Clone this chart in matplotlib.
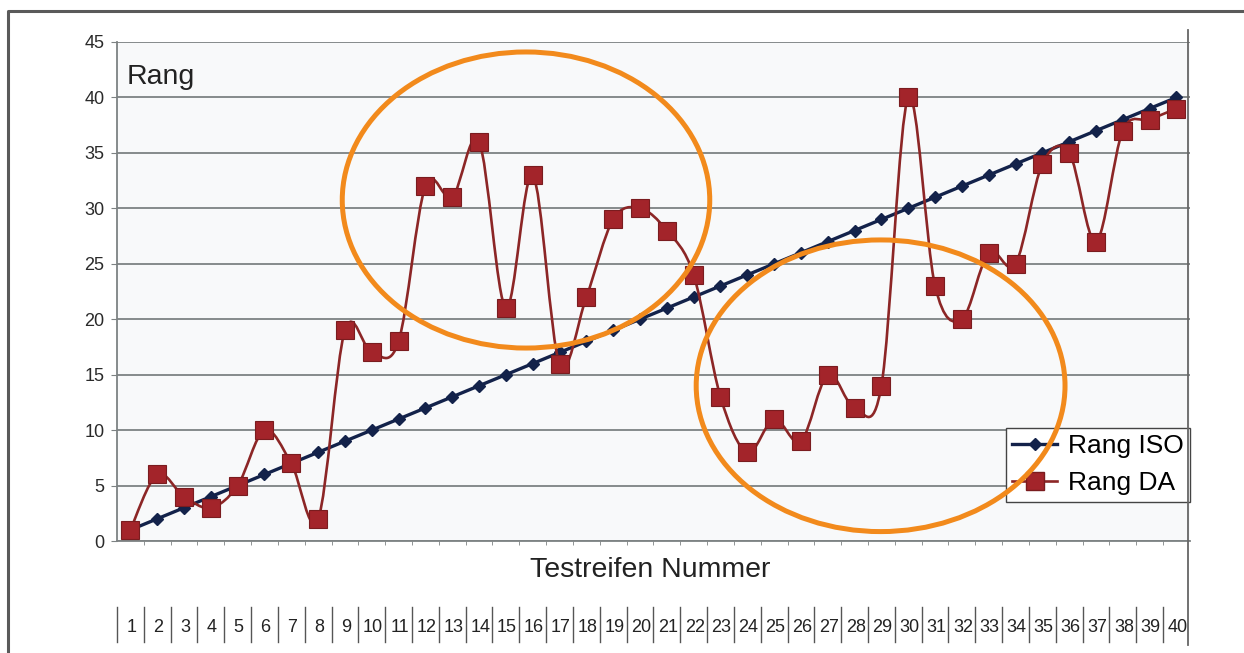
import numpy as np
import matplotlib
matplotlib.use('Agg')
from matplotlib import pyplot as plt
from matplotlib.path import Path
from matplotlib.patches import PathPatch, Ellipse
from matplotlib.lines import Line2D
from matplotlib.transforms import blended_transform_factory

plt.rcParams['font.family'] = ['Liberation Sans', 'DejaVu Sans']

# Test strip numbers and ranks
strips = np.arange(1, 41)
rang_iso = np.arange(1, 41)
rang_da = [1, 6, 4, 3, 5, 10, 7, 2, 19, 17, 18, 32, 31, 36, 21, 33, 16, 22, 29, 30,
           28, 24, 13, 8, 11, 9, 15, 12, 14, 40, 23, 20, 26, 25, 34, 35, 27, 37, 38, 39]

# Highlighted regions (centre x, centre y, width, height) in data units
highlight_a = (15.75, 30.75, 13.7, 26.7)
highlight_b = (28.97, 14.0, 13.75, 26.3)

navy = '#13224a'
red_line = '#8c2626'
red_fill = '#a3242a'
orange = '#f28a1c'


def smooth_path(x, y):
    # Catmull-Rom style bezier through every point (like a smoothed spreadsheet line)
    pts = np.column_stack([x, y]).astype(float)
    n = len(pts)
    verts = [pts[0]]
    codes = [Path.MOVETO]
    for i in range(n - 1):
        p0 = pts[i - 1] if i > 0 else pts[i]
        p1 = pts[i]
        p2 = pts[i + 1]
        p3 = pts[i + 2] if i + 2 < n else pts[i + 1]
        c1 = p1 + (p2 - p0) / 6.0
        c2 = p2 - (p3 - p1) / 6.0
        verts += [c1, c2, p2]
        codes += [Path.CURVE4] * 3
    return Path(verts, codes)


fig = plt.figure(figsize=(12.44, 6.53), dpi=100)
fig.patch.set_facecolor('white')
ax = fig.add_axes([0.094, 0.1715, 0.8625, 0.7642])
ax.set_facecolor('#f8f9fa')

ax.set_xlim(0.5, 40.5)
ax.set_ylim(0, 45)
ax.set_yticks(np.arange(0, 46, 5))
ax.yaxis.grid(True, color='#858b8c', lw=1.4)
ax.set_axisbelow(True)

for s in ['top', 'right']:
    ax.spines[s].set_visible(False)
ax.spines['left'].set_color('#7d8283')
ax.spines['bottom'].set_color('#7d8283')
ax.spines['left'].set_linewidth(1.3)
ax.spines['bottom'].set_linewidth(1.3)

ax.set_xticks([])
ax.set_xticks(np.arange(1.5, 40, 1), minor=True)
ax.tick_params(axis='x', which='minor', length=3, color='#7d8283', labelbottom=False)
ax.tick_params(axis='y', length=4, pad=5, labelsize=13, colors='#7d8283', labelcolor='#2a2a2a')

# ISO rank line
ax.plot(strips, rang_iso, color=navy, lw=2.4, marker='D', markersize=6,
        markerfacecolor=navy, markeredgecolor=navy, zorder=3, label='Rang ISO')

# DA rank: smoothed line plus square markers
ax.add_patch(PathPatch(smooth_path(strips, rang_da), facecolor='none',
                       edgecolor=red_line, lw=1.9, zorder=4))
ax.plot(strips, rang_da, ls='none', marker='s', markersize=13.5,
        markerfacecolor=red_fill, markeredgecolor='#7a1c1f', markeredgewidth=0.8, zorder=5)
da_handle = Line2D([], [], color=red_line, lw=1.9, marker='s', markersize=13.5,
                   markerfacecolor=red_fill, markeredgecolor='#7a1c1f')

ax.text(0.009, 0.955, 'Rang', transform=ax.transAxes, fontsize=20.5, va='top', ha='left',
        color='#222222')

leg = ax.legend(handles=[ax.lines[0], da_handle], labels=['Rang ISO', 'Rang DA'],
                loc='lower right', bbox_to_anchor=(1.0, 0.078), borderaxespad=0,
                fontsize=19, frameon=True, fancybox=False, framealpha=1,
                facecolor='white', edgecolor='#444444', handlelength=1.7,
                handletextpad=0.4, borderpad=0.25, labelspacing=0.5)
leg.get_frame().set_linewidth(1.0)
leg.set_zorder(6)

for cx, cy, w, h in [highlight_a, highlight_b]:
    ax.add_patch(Ellipse((cx, cy), w, h, fill=False, edgecolor=orange, lw=3.6,
                         zorder=10, clip_on=False))

# axis title and the boxed strip number row underneath
fig.text(0.5225, 0.127, 'Testreifen Nummer', ha='center', va='center', fontsize=20.5,
         color='#222222')
trans = blended_transform_factory(ax.transData, fig.transFigure)
for n in strips:
    ax.text(n + 0.04, 0.0383, str(n), transform=trans, ha='center', va='center',
            fontsize=13, color='#222222', clip_on=False)
    ax.add_line(Line2D([n - 0.5, n - 0.5], [0.0168, 0.0704], transform=trans,
                       color='#555555', lw=1.0, clip_on=False))

# right border of the chart, running through the number row
fig.add_artist(Line2D([0.955, 0.955], [0.012, 0.954], transform=fig.transFigure,
                      color='#666666', lw=1.3))
# page frame
fig.add_artist(Line2D([0.0065, 0.0065, 1.0], [0.0, 0.983, 0.983],
                      transform=fig.transFigure, color='#5a5a5a', lw=2.2))

fig.savefig('out.png', dpi=100)
